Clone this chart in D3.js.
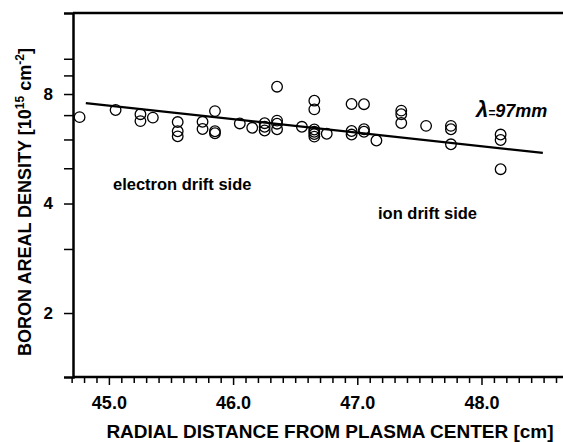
<!DOCTYPE html>
<html>
<head>
<meta charset="utf-8">
<script src="https://cdn.jsdelivr.net/npm/d3@7"></script>
<style>
  body { margin: 0; background: #fff; }
  text { font-family: "Liberation Sans", Arial, sans-serif; font-weight: bold; fill: #000; }
</style>
</head>
<body>
<div id="chart"></div>
<script>
// radial position [cm] of each measurement
var radius = [
  44.76, 45.05, 45.25, 45.25, 45.35,
  45.55, 45.55, 45.55, 45.75, 45.75,
  45.85, 45.85, 45.85, 46.05, 46.15,
  46.25, 46.25, 46.25, 46.35, 46.35, 46.35, 46.35,
  46.55, 46.65, 46.65, 46.65, 46.65, 46.65, 46.65,
  46.75, 46.95, 46.95, 46.95, 47.05, 47.05, 47.05,
  47.15, 47.35, 47.35, 47.35, 47.55,
  47.75, 47.75, 47.75, 48.15, 48.15, 48.15
];
// boron areal density [1e15 cm^-2]
var density = [
  6.91, 7.23, 7.04, 6.74, 6.89,
  6.70, 6.32, 6.12, 6.71, 6.41,
  7.18, 6.32, 6.24, 6.64, 6.46,
  6.65, 6.50, 6.35, 8.38, 6.76, 6.63, 6.40,
  6.50, 7.67, 7.26, 6.39, 6.30, 6.21, 6.11,
  6.22, 7.51, 6.33, 6.19, 7.50, 6.40, 6.30,
  5.96, 7.20, 7.04, 6.66, 6.54,
  6.54, 6.40, 5.82, 6.19, 5.98, 4.97
];
// exponential fit (lambda = 97 mm), end points
var fitX = [44.81, 48.49];
var fitY = [7.55, 5.51];

var yTicks = [2, 3, 4, 5, 6, 7, 8, 9, 10];
var yLabels = [2, 4, 8];
var xMajor = [45, 46, 47, 48];

var W = 563, H = 442;
var margin = {left: 73, top: 13, bottom: 65};

var svg = d3.select('#chart').append('svg')
  .attr('width', W)
  .attr('height', H);

var x = d3.scaleLinear().domain([44.707, 48.7]).range([margin.left, margin.left + 3.993 * 124.2]);
var y = d3.scaleLog().domain([1.334, 13.36]).range([H - margin.bottom, margin.top]);

// top frame line
svg.append('line')
  .attr('x1', margin.left).attr('x2', W + 10)
  .attr('y1', margin.top).attr('y2', margin.top)
  .attr('style', 'stroke:#000; stroke-width:2.5px');

// y axis
var yAxis = svg.append('g')
  .attr('transform', 'translate(' + margin.left + ',0)')
  .call(d3.axisLeft(y).tickValues(yTicks).tickSize(9).tickPadding(11)
    .tickFormat(function(d) { return yLabels.indexOf(d) >= 0 ? d : ''; }));
yAxis.select('.domain').attr('stroke-width', 2.5);
yAxis.selectAll('.tick line').attr('stroke-width', 1.5);
yAxis.selectAll('text').style('font-size', '17px').style('font-family', '"Liberation Sans", Arial, sans-serif').style('font-weight', 'bold');

// x axis, minor ticks each 0.1
var xMinor = d3.range(447, 487).map(function(v) { return v / 10; });
var xAxisG = svg.append('g')
  .attr('transform', 'translate(0,' + (H - margin.bottom) + ')');
xAxisG.append('line')
  .attr('x1', margin.left).attr('x2', W + 10)
  .attr('y1', 0).attr('y2', 0)
  .attr('style', 'stroke:#000; stroke-width:2.5px');
xAxisG.selectAll('.minor')
  .data(xMinor).enter().append('line')
  .attr('x1', function(d) { return x(d); })
  .attr('x2', function(d) { return x(d); })
  .attr('y1', 0)
  .attr('y2', function(d) { return xMajor.indexOf(Math.round(d * 10) / 10) >= 0 ? 8 : 6; })
  .attr('style', 'stroke:#000; stroke-width:1.5px');
xAxisG.selectAll('.xlab')
  .data(xMajor).enter().append('text')
  .attr('x', function(d) { return x(d); })
  .attr('y', 32)
  .attr('text-anchor', 'middle')
  .style('font-size', '18px')
  .text(function(d) { return d.toFixed(1); });

// fit line
svg.append('line')
  .attr('x1', x(fitX[0])).attr('y1', y(fitY[0]))
  .attr('x2', x(fitX[1])).attr('y2', y(fitY[1]))
  .attr('style', 'stroke:#000; stroke-width:2.2px');

// points
svg.append('g').selectAll('circle')
  .data(radius).enter().append('circle')
  .attr('cx', function(d) { return x(d); })
  .attr('cy', function(d, i) { return y(density[i]); })
  .attr('r', 5.3)
  .style('fill', 'none')
  .style('stroke', '#000')
  .style('stroke-width', 1.3);

// annotations
svg.append('text').attr('x', 113).attr('y', 190).style('font-size', '16.5px').text('electron drift side');
svg.append('text').attr('x', 378).attr('y', 219).style('font-size', '16.5px').text('ion drift side');
var lam = svg.append('text').attr('x', 476).attr('y', 117).style('font-style', 'italic');
lam.append('tspan').style('font-size', '22px').text('λ');
lam.append('tspan').style('font-size', '12px').text('=');
lam.append('tspan').style('font-size', '18px').text('97mm');

// axis titles
svg.append('text')
  .attr('x', 330).attr('y', 438)
  .attr('text-anchor', 'middle')
  .style('font-size', '19px')
  .text('RADIAL DISTANCE FROM PLASMA CENTER [cm]');

var yt = svg.append('text')
  .attr('transform', 'translate(31,202) rotate(-90)')
  .attr('text-anchor', 'middle')
  .style('font-size', '18px');
yt.append('tspan').text('BORON AREAL DENSITY [10');
yt.append('tspan').attr('dy', -7).style('font-size', '12px').text('15');
yt.append('tspan').attr('dy', 7).text(' cm');
yt.append('tspan').attr('dy', -7).style('font-size', '12px').text('-2');
yt.append('tspan').attr('dy', 7).text(']');
</script>
</body>
</html>
